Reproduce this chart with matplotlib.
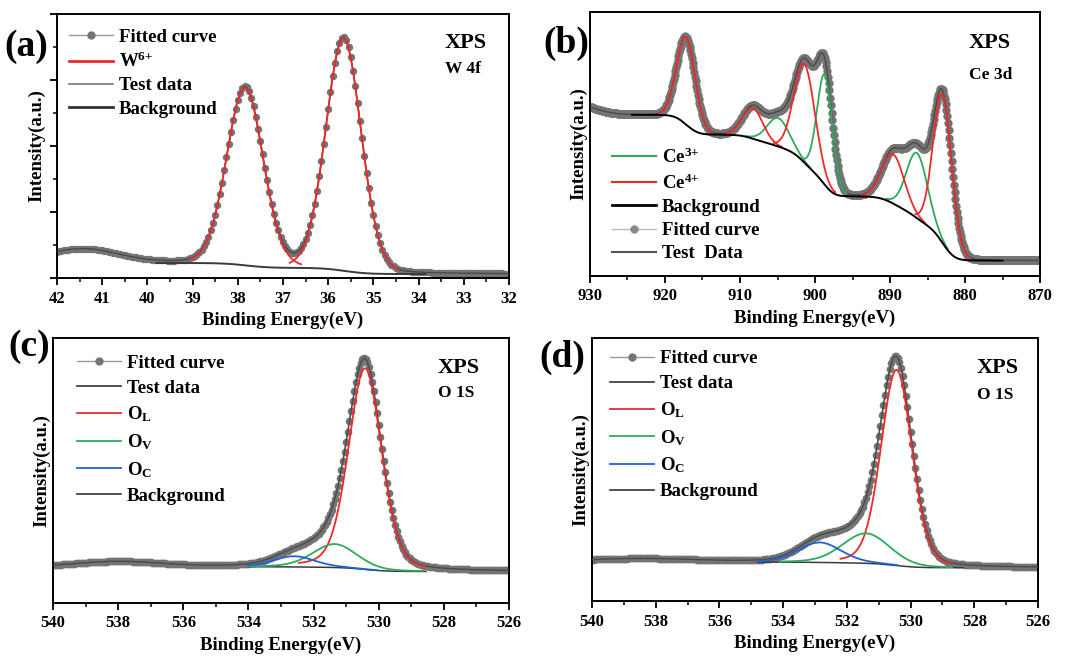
"""
XPS fits of W 4f, Ce 3d and O 1s regions, four panels (a)-(d).
Peak tables are read off the reference picture: centre (eV), height above
background, FWHM (eV), Lorentzian fraction.
"""

import matplotlib
matplotlib.use("Agg")
import matplotlib.pyplot as plt
from matplotlib.lines import Line2D
import numpy as np

plt.rcParams["font.family"] = "serif"
plt.rcParams["font.serif"] = ["Liberation Serif", "DejaVu Serif"]
plt.rcParams["font.weight"] = "bold"
plt.rcParams["mathtext.fontset"] = "custom"
plt.rcParams["mathtext.rm"] = "Liberation Serif:bold"
plt.rcParams["mathtext.bf"] = "Liberation Serif:bold"
plt.rcParams["mathtext.it"] = "Liberation Serif:bold"

RED   = "#ec2a2c"
GREEN = "#2eaa5e"
BLUE  = "#2062d8"
DOT   = "#747474"
DATA  = "#4a4a4a"

# ---------------- (a) W 4f ----------------
a_step   = 0.05
a_range  = (42.0, 32.0)
a_center = [37.84, 35.66]
a_height = [178, 233]
a_fwhm   = [0.95, 0.92]
a_eta    = [0.10, 0.10]
a_bg_ends = (39.8, 15.0, 33.8, 4.0)         # E_high, B_high, E_low, B_low
a_extra  = [(41.45, 14.0, 1.9)]             # W 5p bump on the left: centre, height, fwhm

# ---------------- (b) Ce 3d ----------------
b_step = 0.1
b_range = (930.0, 870.0)
b_ce4_center = [917.2, 908.3, 901.4, 889.6, 883.0]
b_ce4_height = [262, 92, 295, 148, 445]
b_ce4_fwhm   = [2.9, 3.2, 3.3, 3.5, 2.9]
b_ce3_center = [904.9, 898.7, 886.4]
b_ce3_height = [85, 330, 195]
b_ce3_fwhm   = [3.5, 2.4, 3.3]
b_eta = 0.05
b_bg_ends = (924.5, 483.0, 875.0, 46.0)
b_extra = [(933.0, 40.0, 7.0)]

# ---------------- (c) O 1s ----------------
c_step = 0.05
c_range = (540.0, 526.0)
c_center = {"OL": 530.42, "OV": 531.35, "OC": 532.60}
c_height = {"OL": 600, "OV": 70, "OC": 32}
c_fwhm   = {"OL": 1.20, "OV": 1.60, "OC": 1.50}
c_eta = 0.25
c_bg_ends = (534.0, 108.0, 528.5, 94.0)
c_extra = [(538.0, 15.0, 3.0)]

# ---------------- (d) O 1s ----------------
d_step = 0.05
d_range = (540.0, 526.0)
d_center = {"OL": 530.44, "OV": 531.40, "OC": 532.85}
d_height = {"OL": 588, "OV": 90, "OC": 60}
d_fwhm   = {"OL": 1.15, "OV": 1.75, "OC": 1.60}
d_eta = 0.2
d_bg_ends = (534.8, 117.0, 528.3, 100.0)
d_extra = [(538.5, 10.0, 4.0)]


def pvoigt(E, c, h, w, eta):
    x = (E - c) / w
    return h * ((1 - eta) * np.exp(-4 * np.log(2) * x ** 2) + eta / (1 + 4 * x ** 2))


def shirley(E, comps, ends):
    e_hi, b_hi, e_lo, b_lo = ends
    total = np.sum(comps, axis=0)
    inside = (E <= e_hi) & (E >= e_lo)
    t = np.where(inside, total, 0.0)
    order = np.argsort(E)
    cum = np.empty_like(E)
    cum[order] = np.cumsum(t[order])
    frac = cum / cum.max()
    bg = b_lo + (b_hi - b_lo) * frac
    return bg, inside


def extras(E, lst):
    out = np.zeros_like(E)
    for c, h, w in lst:
        out += pvoigt(E, c, h, w, 0.0)
    return out


def comp_line(comp, bg, h, inside):
    y = bg + comp
    return np.where((comp > 0.02 * h) & inside, y, np.nan)


def style_axes(ax, xlim, ylim, major, minor, yticks=None):
    ax.set_xlim(*xlim)
    ax.set_ylim(*ylim)
    ax.set_xticks(np.arange(min(xlim), max(xlim) + 1e-6, major))
    ax.set_xticks(np.arange(min(xlim), max(xlim) + 1e-6, minor), minor=True)
    ax.tick_params(axis="x", which="major", direction="out", length=5, width=1.3,
                   labelsize=12, pad=4, top=False)
    ax.tick_params(axis="x", which="minor", direction="out", length=3, width=1.1, top=False)
    if yticks is None:
        ax.set_yticks([])
    else:
        ax.set_yticks(yticks[0])
        ax.set_yticks(yticks[1], minor=True)
        ax.tick_params(axis="y", which="major", direction="out", length=5, width=1.3,
                       labelleft=False, right=False)
        ax.tick_params(axis="y", which="minor", direction="out", length=3, width=1.1,
                       right=False)
    for lab in ax.get_xticklabels():
        lab.set_fontweight("bold")
    for s in ax.spines.values():
        s.set_linewidth(1.4)
    ax.set_xlabel("Binding Energy(eV)", fontsize=13.5, fontweight="bold", labelpad=4)
    ax.set_ylabel("Intensity(a.u.)", fontsize=13.5, fontweight="bold", labelpad=2)


def xps_text(ax, x, y1, y2, line2):
    ax.text(x, y1, "XPS", transform=ax.transAxes, fontsize=16, fontweight="bold",
            va="center", ha="left")
    ax.text(x, y2, line2, transform=ax.transAxes, fontsize=12.5, fontweight="bold",
            va="center", ha="left")


def fitted_handle(label):
    return Line2D([], [], color="#9a9a9a", lw=1.0, marker="o", ms=5,
                  mfc=DOT, mec=DOT, label=label)


leg_kw = dict(frameon=False, fontsize=13.5, handlelength=2.35, handletextpad=0.3,
              borderaxespad=0.0)

fig = plt.figure(figsize=(10.69, 6.56), dpi=100)

# ---------- panel (a) ----------
ax = fig.add_axes([0.0533, 0.5762, 0.4228, 0.4024])
E = np.arange(a_range[1], a_range[0] + 1e-9, a_step)
comps = [pvoigt(E, c, h, w, e) for c, h, w, e in zip(a_center, a_height, a_fwhm, a_eta)]
bg, inside = shirley(E, comps, a_bg_ends)
fit = bg + np.sum(comps, axis=0) + extras(E, a_extra)
ax.plot(E, fit, color="#9a9a9a", lw=1.0, marker="o", ms=5.3, mfc=DOT, mec=DOT, mew=0, zorder=2)
ax.plot(E, fit, color=DATA, lw=1.0, zorder=3)
for comp, h in zip(comps, a_height):
    ax.plot(E, comp_line(comp, bg, h, inside), color=RED, lw=1.3, zorder=4)
ax.plot(E[inside], bg[inside], color="#3a3a3a", lw=1.4, zorder=3)
style_axes(ax, (42, 32), (0, 264), 1, 0.5,
           yticks=([0, 66, 132, 198, 264], [33, 99, 165, 231]))
xps_text(ax, 0.858, 0.89, 0.79, "W 4f")
handles = [fitted_handle("Fitted curve"),
           Line2D([], [], color=RED, lw=2.0, label="W$^{6\\!+}$"),
           Line2D([], [], color="#777777", lw=1.2, label="Test data"),
           Line2D([], [], color="#333333", lw=2.0, label="Background")]
ax.legend(handles=handles, loc="upper left", bbox_to_anchor=(0.01, 0.974),
          labelspacing=0.33, **leg_kw)
fig.text(0.004, 1 - 47 / 656, "(a)", fontsize=27, fontweight="bold", va="center")

# ---------- panel (b) ----------
ax = fig.add_axes([0.5519, 0.5793, 0.4210, 0.4024])
E = np.arange(b_range[1], b_range[0] + 1e-9, b_step)
c4 = [pvoigt(E, c, h, w, b_eta) for c, h, w in zip(b_ce4_center, b_ce4_height, b_ce4_fwhm)]
c3 = [pvoigt(E, c, h, w, b_eta) for c, h, w in zip(b_ce3_center, b_ce3_height, b_ce3_fwhm)]
bg, inside = shirley(E, c4 + c3, b_bg_ends)
fit = bg + np.sum(c4 + c3, axis=0) + extras(E, b_extra)
ax.plot(E, fit, color="#9a9a9a", lw=1.0, marker="o", ms=6, mfc=DOT, mec=DOT, mew=0, zorder=2)
ax.plot(E, fit, color=DATA, lw=1.0, zorder=3)
for comp, h in zip(c3, b_ce3_height):
    ax.plot(E, comp_line(comp, bg, h, inside), color=GREEN, lw=1.3, zorder=4)
for comp, h in zip(c4, b_ce4_height):
    ax.plot(E, comp_line(comp, bg, h, inside), color=RED, lw=1.3, zorder=4)
ax.plot(E[inside], bg[inside], color="black", lw=1.4, zorder=5)
style_axes(ax, (930, 870), (0, 791), 10, 5)
xps_text(ax, 0.842, 0.883, 0.762, "Ce 3d")
handles = [Line2D([], [], color=GREEN, lw=1.5, label="Ce$^{3\\!+}$"),
           Line2D([], [], color=RED, lw=1.5, label="Ce$^{4\\!+}$"),
           Line2D([], [], color="black", lw=2.0, label="Background"),
           Line2D([], [], color="#bbbbbb", lw=1.0, marker="o", ms=5, mfc="#8a8a8a",
                  mec="#8a8a8a", label="Fitted curve"),
           Line2D([], [], color="#555555", lw=1.5, label="Test  Data")]
ax.legend(handles=handles, loc="upper left", bbox_to_anchor=(0.032, 0.515),
          labelspacing=0.33, **leg_kw)
fig.text(0.508, 1 - 43 / 656, "(b)", fontsize=27, fontweight="bold", va="center")

# ---------- panels (c) and (d) ----------
for pos, rng, cen, hgt, fw, eta, ends, extra, txt, lbl, lbl_xy, leg_anchor in [
    ([0.0496, 0.0808, 0.4266, 0.4040], c_range, c_center, c_height, c_fwhm, c_eta,
     c_bg_ends, c_extra, (0.844, 0.887, 0.792), "(c)", (0.008, 1 - 347 / 656), (0.036, 0.965)),
    ([0.5538, 0.0838, 0.4172, 0.4009], d_range, d_center, d_height, d_fwhm, d_eta,
     d_bg_ends, d_extra, (0.863, 0.886, 0.783), "(d)", (0.505, 1 - 357 / 656), (0.0235, 0.982)),
]:
    ax = fig.add_axes(pos)
    E = np.arange(rng[1], rng[0] + 1e-9, 0.05)
    comps = {k: pvoigt(E, cen[k], hgt[k], fw[k], eta) for k in ("OL", "OV", "OC")}
    bg, inside = shirley(E, list(comps.values()), ends)
    fit = bg + np.sum(list(comps.values()), axis=0) + extras(E, extra)
    ax.plot(E, fit, color="#9a9a9a", lw=1.0, marker="o", ms=5.5, mfc=DOT, mec=DOT,
            mew=0, zorder=2)
    ax.plot(E, fit, color=DATA, lw=1.0, zorder=3)
    for k, col in (("OL", RED), ("OV", GREEN), ("OC", BLUE)):
        ax.plot(E, comp_line(comps[k], bg, hgt[k], inside), color=col, lw=1.3, zorder=4)
    ax.plot(E[inside], bg[inside], color="#3a3a3a", lw=1.1, zorder=3)
    style_axes(ax, (540, 526), (0, 790), 2, 1)
    xps_text(ax, txt[0], txt[1], txt[2], "O 1S")
    handles = [fitted_handle("Fitted curve"),
               Line2D([], [], color="#333333", lw=1.2, label="Test data"),
               Line2D([], [], color=RED, lw=1.3, label="O$_\\mathrm{L}$"),
               Line2D([], [], color=GREEN, lw=1.3, label="O$_\\mathrm{V}$"),
               Line2D([], [], color=BLUE, lw=1.3, label="O$_\\mathrm{C}$"),
               Line2D([], [], color="#333333", lw=1.2, label="Background")]
    ax.legend(handles=handles, loc="upper left", bbox_to_anchor=(leg_anchor[0], leg_anchor[1]),
              labelspacing=0.42, **leg_kw)
    fig.text(lbl_xy[0], lbl_xy[1], lbl, fontsize=27, fontweight="bold", va="center")

fig.savefig("out.png", dpi=100)
